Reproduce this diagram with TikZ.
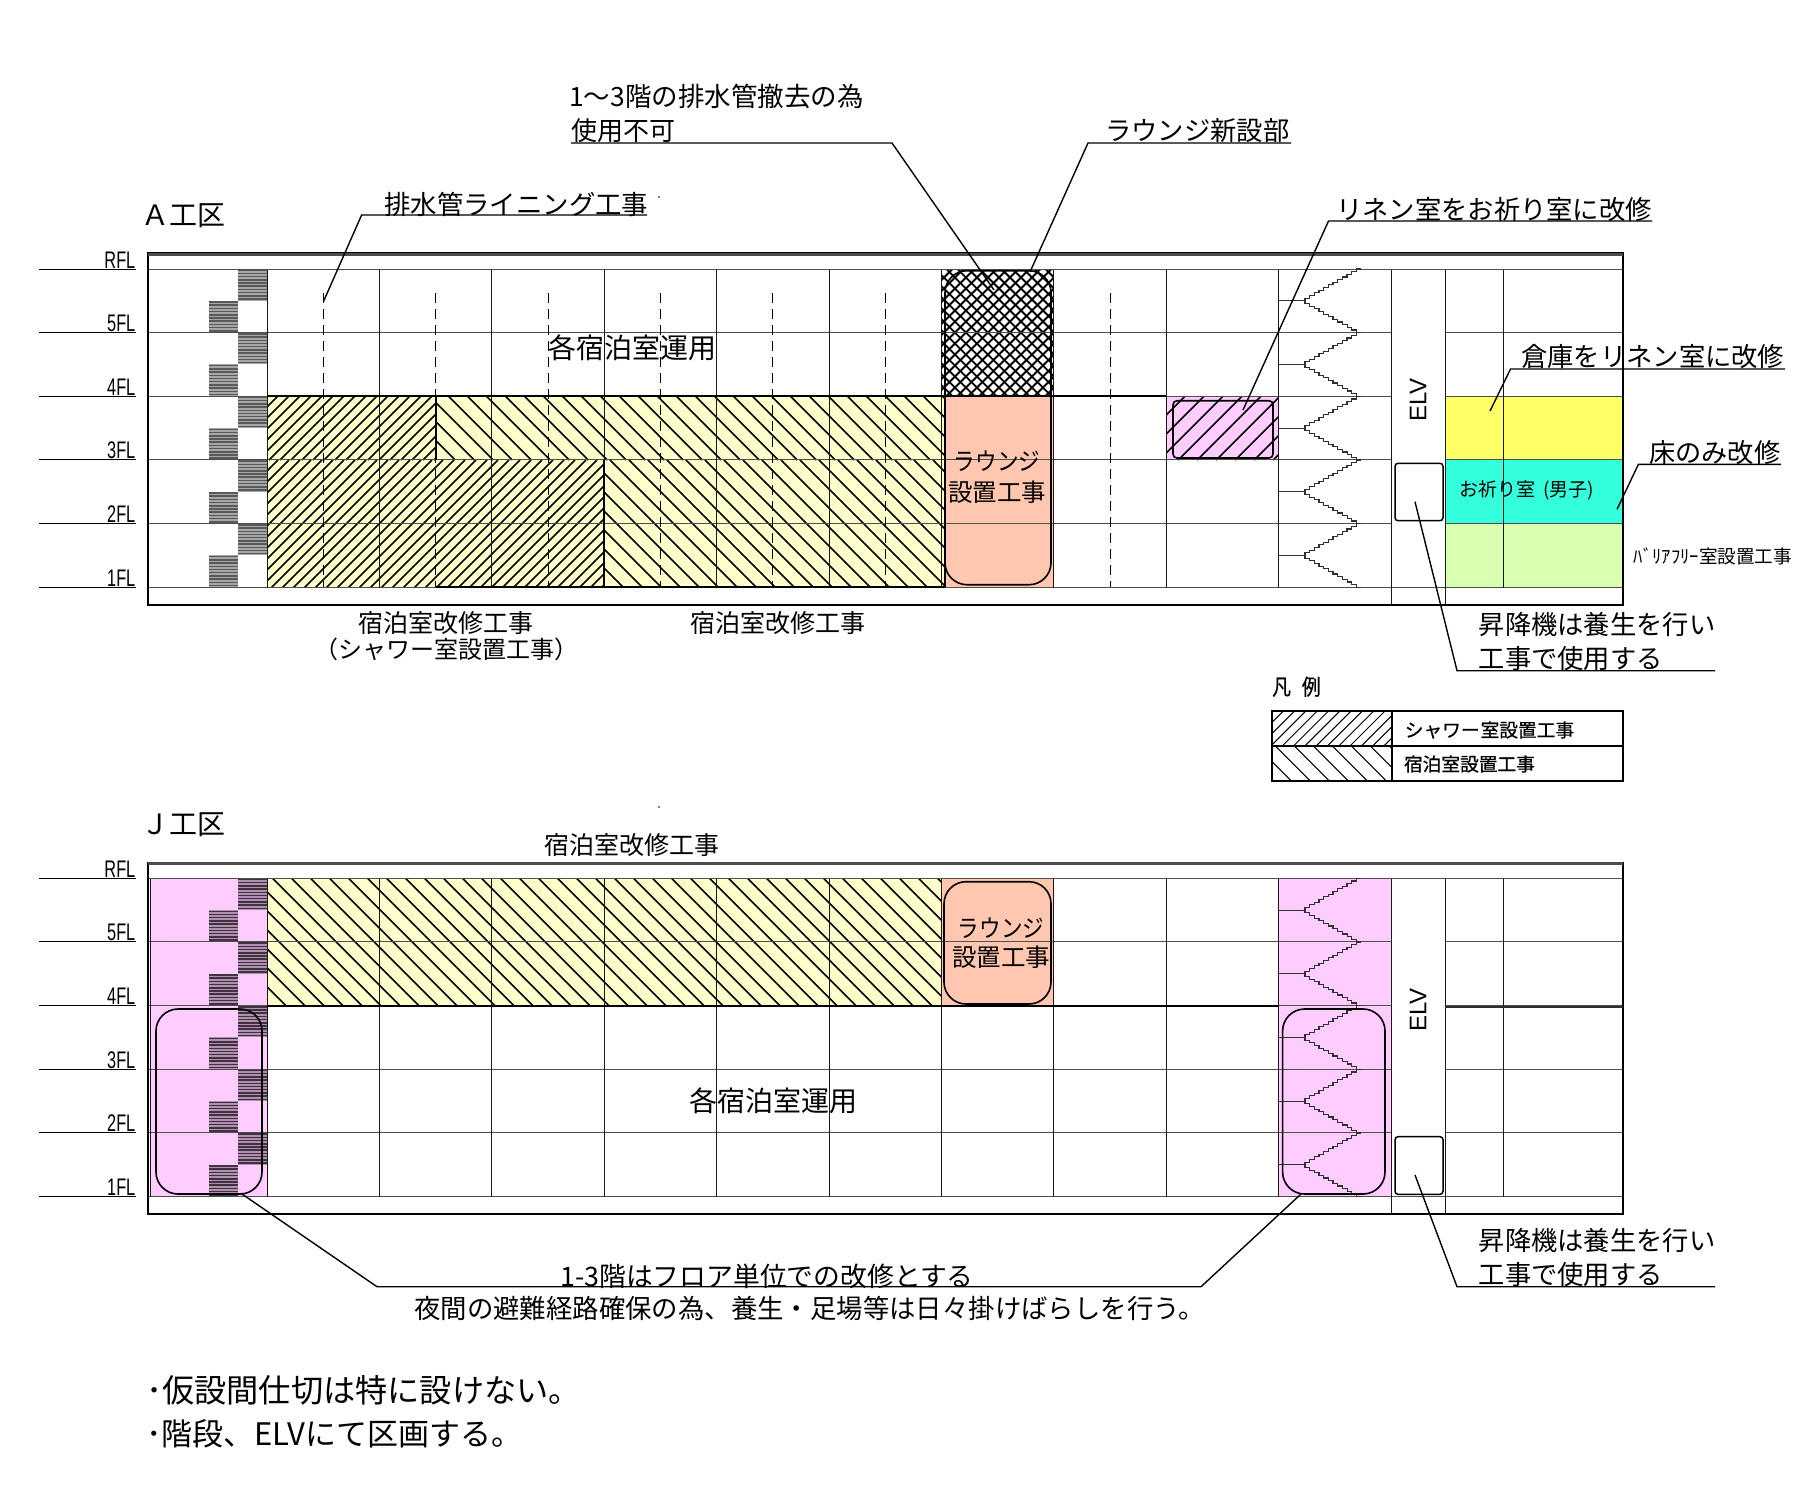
\documentclass[tikz,border=0pt]{standalone}
\usepackage{fontspec}
\usepackage{graphicx}
\setmainfont{Noto Sans CJK JP}
\newfontfamily\latinf{Liberation Sans}
\newfontfamily\boldjp[FakeBold=0.6]{Noto Sans CJK JP}
\definecolor{hyellow}{HTML}{FFFFCC}
\definecolor{hpink}{HTML}{FFCCFF}
\definecolor{hsalmon}{HTML}{FFC7B0}
\definecolor{kyellow}{HTML}{FFFF66}
\definecolor{kcyan}{HTML}{33FFDD}
\definecolor{kgreen}{HTML}{D9FFB0}
\definecolor{gridc}{HTML}{303030}
\newcommand{\fsz}[1]{\fontsize{#1}{#1}\selectfont}
\tikzset{
  lab/.style={inner sep=0pt,text=black,align=center},
  gridline/.style={draw=black!90,line width=1.1pt},
  floorline/.style={draw=gridc!85,line width=1.4pt},
  frameline/.style={draw=black,line width=1.8pt},
  heavy/.style={draw=black,line width=2pt},
  leader/.style={draw=black,line width=1.4pt},
  hatchline/.style={draw=black,line width=1.6pt},
  roundbox/.style={draw=black,line width=1.6pt,rounded corners=22pt},
  smallbox/.style={draw=black,line width=1.5pt,rounded corners=3pt,fill=white},
  dashv/.style={draw=black,line width=1.6pt,dash pattern=on 10pt off 6pt},
  levelline/.style={draw=black,line width=1.8pt},
  stairline/.style={draw=gridc,line width=1.1pt},
}
\newcommand{\hatchF}[6][hatchline]{%
  \begin{scope}
    \clip (#2,#3) rectangle (#4,#5);
    \pgfmathsetmacro{\ca}{#2+#3}\pgfmathsetmacro{\cb}{\ca+#6}\pgfmathsetmacro{\ce}{#4+#5}
    \foreach \c in {\ca,\cb,...,\ce}{\draw[#1] (\c-#3,#3) -- (\c-#5,#5);}
  \end{scope}}
\newcommand{\hatchB}[6][hatchline]{%
  \begin{scope}
    \clip (#2,#3) rectangle (#4,#5);
    \pgfmathsetmacro{\ca}{#2-#5}\pgfmathsetmacro{\cb}{\ca+#6}\pgfmathsetmacro{\ce}{#4-#3}
    \foreach \c in {\ca,\cb,...,\ce}{\draw[#1] (\c+#3,#3) -- (\c+#5,#5);}
  \end{scope}}
% #1 = y of RFL, #2 = block fill, #3 = colour of the tread lines
\newcommand{\stairblocks}[3]{%
  \foreach \f in {0,...,4}{%
    \pgfmathsetmacro{\yt}{#1+63.66*\f}%
    \pgfmathsetmacro{\ym}{\yt+31.83}%
    \pgfmathsetmacro{\ye}{\yt+63.66}%
    \fill[#2] (238,\yt) rectangle (267,\ym);
    \fill[#2] (208.6,\ym) rectangle (238,\ye);
    \foreach \k in {0,...,9}{%
      \pgfmathsetmacro{\ya}{\yt+1.2+\k*3.2}%
      \pgfmathsetmacro{\yb}{\ym+1.2+\k*3.2}%
      \draw[#3,line width=1.5pt] (238,\ya) -- (267,\ya);
      \draw[#3,line width=1.5pt] (208.6,\yb) -- (238,\yb);
    }}}
\newcommand{\flights}[1]{%
  \foreach \f in {0,...,4}{%
    \pgfmathsetmacro{\yt}{#1+63.66*\f}%
    \pgfmathsetmacro{\ym}{\yt+31.83}%
    \draw[stairline] (1361,\yt) \foreach \i in {1,...,12}{ -- ++(-4.67,0) -- ++(0,2.65)};
    \draw[stairline] (1305,\ym) \foreach \i in {1,...,12}{ -- ++(0,2.65) -- ++(4.67,0)};
    \draw[stairline] (1278.5,\ym) -- (1305,\ym);
  }}
\newcommand{\bgrid}[1]{%
  \pgfmathsetmacro{\yrf}{floor(#1)+0.5}\pgfmathsetmacro{\yone}{floor(#1+318.3)+0.5}%
  \pgfmathsetmacro{\ybot}{#1+335.7}\pgfmathsetmacro{\ytop}{#1-15.7}%
  \foreach \f in {1,...,4}{%
    \pgfmathsetmacro{\yy}{floor(#1+63.66*\f)+0.5}%
    \draw[floorline] (148,\yy) -- (1391.5,\yy);
    \draw[floorline] (1445.5,\yy) -- (1622.7,\yy);
  }
  \draw[floorline] (148,\yrf) -- (1622.7,\yrf);
  \draw[floorline] (148,\yone) -- (1622.7,\yone);
  \foreach \x in {267.5,379.5,491.5,604.5,716.5,829.5,941.5,1053.5,1166.5,1278.5,1503.5}{%
    \draw[gridline] (\x,\yrf) -- (\x,\yone);}
  \foreach \x in {1391.5,1445.5}{\draw[gridline] (\x,\yrf) -- (\x,\ybot);}
  \draw[frameline] (148,\ytop) rectangle (1622.7,\ybot);
  \draw[draw=black!70,line width=3pt] (148,\ytop+1) -- (1622.7,\ytop+1);
}
\newcommand{\levels}[1]{%
  \foreach \f/\t in {0/RFL,1/5FL,2/4FL,3/3FL,4/2FL,5/1FL}{%
    \pgfmathsetmacro{\yy}{floor(#1+63.66*\f)+0.5}%
    \draw[levelline] (39,\yy) -- (136,\yy);
    \node[lab,anchor=base east] at (135.5,\yy-1) {\latinf\fsz{24}\scalebox{0.68}[1]{\t}};
  }}
\begin{document}
\begin{tikzpicture}[x=1pt,y=-1pt]
\useasboundingbox (0,0) rectangle (1811,1484);
\fill[white] (0,0) rectangle (1811,1484);

%% ---------- A block ----------
\fill[hyellow] (267,396) rectangle (945,587.3);
\fill[hsalmon] (945,396) rectangle (1053.6,587.3);
\fill[hpink] (1166.2,396) rectangle (1278.6,460);
\fill[kyellow] (1445,396) rectangle (1622.7,460);
\fill[kcyan] (1445,460) rectangle (1622.7,523.7);
\fill[kgreen] (1445,523.7) rectangle (1622.7,587.3);
\stairblocks{269}{black!35}{black!65}
\hatchF{267}{396}{436.3}{460}{11}
\hatchF{267}{460}{604.2}{587.3}{11}
\hatchB{436.3}{396}{945}{460}{19}
\hatchB{604.2}{460}{945}{587.3}{19}
\hatchF[draw=black,line width=1.9pt]{941.4}{269}{1053.6}{396}{11}
\hatchB[draw=black,line width=1.9pt]{941.4}{269}{1053.6}{396}{11}
\hatchF{1166.2}{396}{1278.6}{460}{19}
\bgrid{269}
\flights{269}
\foreach \x in {323.5,435.5,548.5,660.5,772.5,885.5,1110.5}{\draw[dashv] (\x,293.3) -- (\x,587.3);}
\draw[heavy] (267,396) -- (1166.2,396);
\draw[heavy] (436.3,396) -- (436.3,460);
\draw[heavy] (604.2,460) -- (604.2,587.3);
\draw[heavy] (945,396) -- (945,587.3);
\draw[heavy] (436.3,587.3) -- (945,587.3);
\draw[roundbox] (945,270.7) rectangle (1051,584.7);
\draw[draw=black,line width=1.6pt,rounded corners=4pt] (1173,400.7) rectangle (1273,458);
\levels{269}
\node[smallbox,minimum width=48pt,minimum height=57.4pt] (liftA) at (1419,492) {};
\node[lab,rotate=90] (elvA) at (1418,400) {\latinf\fsz{24}ELV};

%% ---------- J block ----------
\fill[hpink] (150.4,878.3) rectangle (267,1197);
\fill[hyellow] (267,878.3) rectangle (941.4,1005.7);
\fill[hsalmon] (941.4,878.3) rectangle (1053.6,1005.7);
\fill[hpink] (1278.6,878.3) rectangle (1391,1197);
\stairblocks{878.3}{black!30!hpink}{black!75!hpink}
\hatchB{267}{878.3}{941.4}{1005.7}{19}
\bgrid{878.3}
\flights{878.3}
\draw[gridline] (150.5,878.5) -- (150.5,1196.5);
\draw[heavy] (267,1005.7) -- (1278.6,1005.7);
\draw[draw=gridc,line width=2.4pt] (1445,1006.7) -- (1622.7,1006.7);
\draw[roundbox] (944,881.7) rectangle (1051,1004);
\draw[roundbox] (156,1009) rectangle (262,1194);
\draw[roundbox] (1282.6,1009) rectangle (1385,1194);
\levels{878.3}
\node[smallbox,minimum width=48pt,minimum height=57.6pt] (liftJ) at (1419,1165.5) {};
\node[lab,rotate=90] (elvJ) at (1418,1010) {\latinf\fsz{24}ELV};

%% ---------- legend ----------
\hatchF[draw=black,line width=1pt]{1272}{711}{1391.7}{746}{11.3}
\hatchB[draw=black,line width=1pt]{1272}{746}{1391.7}{780.7}{19}
\draw[frameline] (1272,711) rectangle (1623,780.7);
\draw[frameline] (1272,746) -- (1623,746);
\draw[frameline] (1391.7,711) -- (1391.7,780.7);
\node[lab,anchor=west] (legendtitle) at (1272,686.7) {\boldjp\fsz{22}\scalebox{0.85}[1]{凡}\hspace{11pt}\scalebox{0.85}[1]{例}};
\node[lab,anchor=west] (leg1) at (1404.6,730) {\boldjp\fsz{18.7}シャワー\hspace{1pt}室設置工事};
\node[lab,anchor=west] (leg2) at (1403.8,764) {\boldjp\fsz{18.7}宿泊室設置工事};

%% ---------- texts A ----------
\node[lab,anchor=west] (titleA) at (141,216) {\fsz{28}Ａ工区};
\node[lab,anchor=west] (t1) at (384,204) {\fsz{26.4}排水管ライニング工事};
\node[lab,anchor=west] (t2a) at (569,96) {\fsz{26.5}1〜3階の排水管撤去の為};
\node[lab,anchor=west] (t2b) at (571,131) {\fsz{26}使用不可};
\node[lab,anchor=west] (t3) at (1105,131) {\fsz{26.3}ラウンジ新設部};
\node[lab,anchor=west] (t4) at (1336,210) {\fsz{26.3}リネン室をお祈り室に改修};
\node[lab,anchor=west] (t5) at (1521,357) {\fsz{26.3}倉庫をリネン室に改修};
\node[lab,anchor=west] (t6) at (1649,453) {\fsz{26.2}床のみ改修};
\node[lab] (t7) at (632,348) {\fsz{28}各宿泊室運用};
\node[lab] (t8a) at (445.5,623) {\fsz{25}宿泊室改修工事};
\node[lab] (t8b) at (446,649) {\fsz{24}（シャワー室設置工事）};
\node[lab] (t9) at (777.5,623) {\fsz{25}宿泊室改修工事};
\node[lab] (t10a) at (997,460.7) {\fsz{24.5}\scalebox{0.88}[1]{ラウンジ}};
\node[lab] (t10b) at (997,492) {\fsz{24.5}設置工事};
\node[lab,anchor=west] (t11) at (1459,490.7) {\fsz{19}お祈り室\hspace{8pt}(男子)};
\node[lab,anchor=west] (t12) at (1633.7,556.7) {\fsz{18.6}ﾊﾞﾘｱﾌﾘｰ室設置工事};
\node[lab,anchor=west] (t13a) at (1478.5,625) {\fsz{26.3}昇降機は養生を行い};
\node[lab,anchor=west] (t13b) at (1478.5,659) {\fsz{26.3}工事で使用する};

%% ---------- texts J ----------
\node[lab,anchor=west] (titleJ) at (141,825) {\fsz{28}Ｊ工区};
\node[lab] (j1) at (632,845) {\fsz{25}宿泊室改修工事};
\node[lab] (j2a) at (1001,928) {\fsz{24.5}\scalebox{0.88}[1]{ラウンジ}};
\node[lab] (j2b) at (1001,957) {\fsz{24.5}設置工事};
\node[lab] (j3) at (773,1101) {\fsz{28}各宿泊室運用};
\node[lab,anchor=west] (j4a) at (1478.5,1240) {\fsz{26.3}昇降機は養生を行い};
\node[lab,anchor=west] (j4b) at (1478.5,1275) {\fsz{26.3}工事で使用する};
\node[lab] (j5) at (767,1276) {\fsz{26.8}1-3階はフロア単位での改修とする};
\node[lab,anchor=west] (j6) at (414,1308) {\fsz{26.4}夜間の避難経路確保の為、養生・足場等は日々掛けばらしを行う。};

%% ---------- notes ----------
\node[lab,anchor=west] (n1) at (146,1390) {\fsz{32.2}･仮設間仕切は特に設けない。};
\node[lab,anchor=west] (n2) at (146,1434) {\fsz{31}･階段、ELVにて区画する。};

%% ---------- leaders ----------
\coordinate (l1a) at (323.4,301.7); \coordinate (l1b) at (361.6,215); \coordinate (l1c) at (647,215);
\draw[leader] (l1a) -- (l1b) -- (l1c);
\coordinate (l2a) at (994,290); \coordinate (l2b) at (892,143); \coordinate (l2c) at (571,143);
\draw[leader] (l2a) -- (l2b) -- (l2c);
\coordinate (l3a) at (1030,272); \coordinate (l3b) at (1088,143); \coordinate (l3c) at (1291,143);
\draw[leader] (l3a) -- (l3b) -- (l3c);
\coordinate (l4a) at (1243,410); \coordinate (l4b) at (1328.5,221); \coordinate (l4c) at (1652,221);
\draw[leader] (l4a) -- (l4b) -- (l4c);
\coordinate (l5a) at (1490,411); \coordinate (l5b) at (1510.5,369); \coordinate (l5c) at (1785,369);
\draw[leader] (l5a) -- (l5b) -- (l5c);
\coordinate (l6a) at (1617,509.3); \coordinate (l6b) at (1638.4,464.3); \coordinate (l6c) at (1781,464.3);
\draw[leader] (l6a) -- (l6b) -- (l6c);
\coordinate (l7a) at (1415,501.7); \coordinate (l7b) at (1457,670.7); \coordinate (l7c) at (1715,670.7);
\draw[leader] (l7a) -- (l7b) -- (l7c);
\coordinate (l8a) at (1415,1175); \coordinate (l8b) at (1457,1286.7); \coordinate (l8c) at (1715,1286.7);
\draw[leader] (l8a) -- (l8b) -- (l8c);
\coordinate (l9a) at (241,1193.3); \coordinate (l9b) at (377,1286.7); \coordinate (l9c) at (1201,1286.7); \coordinate (l9d) at (1301,1194);
\draw[leader] (l9a) -- (l9b) -- (l9c) -- (l9d);
\fill[black] (659,197) circle (0.8pt);
\fill[black] (659,807) circle (0.8pt);
\end{tikzpicture}
\end{document}
